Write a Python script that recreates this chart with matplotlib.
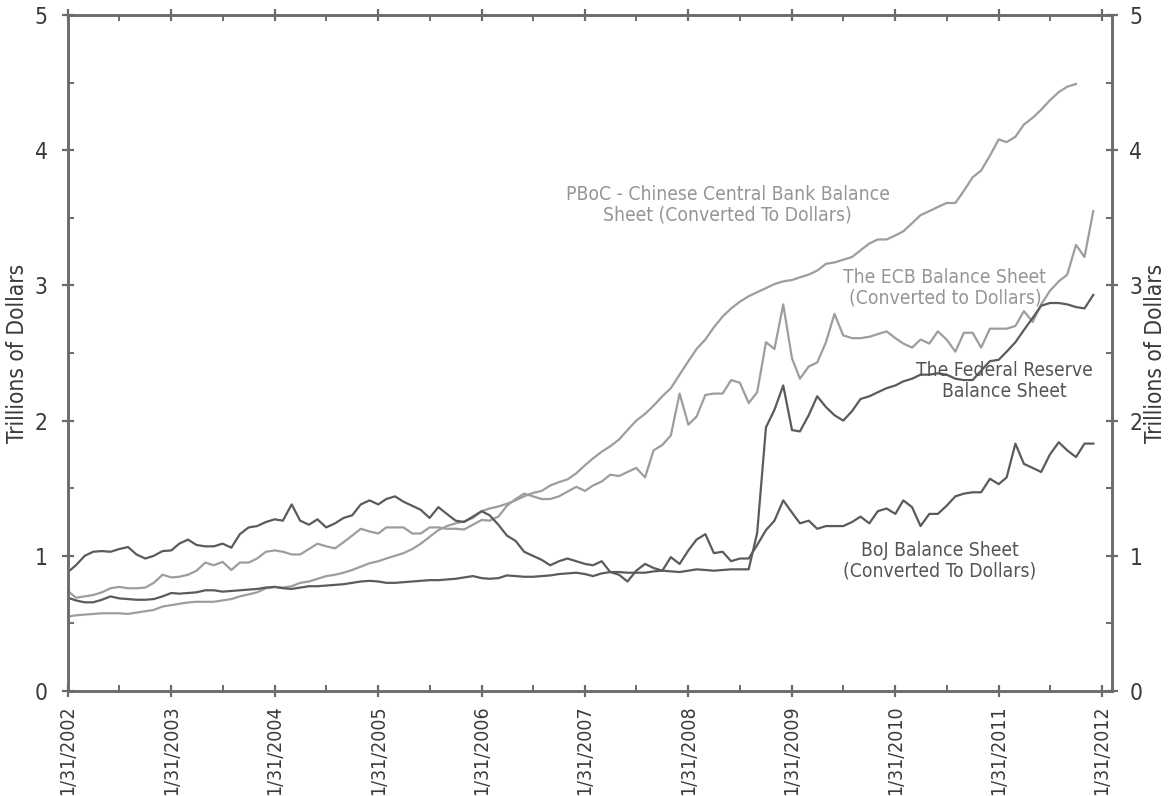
import pandas as pd
import matplotlib
matplotlib.use("Agg")
import matplotlib.pyplot as plt
from matplotlib import font_manager
from matplotlib.ticker import MultipleLocator

# the original uses a narrow face; take a condensed one if the system has it
narrow = [f for f in font_manager.fontManager.ttflist
          if f.stretch in ('condensed', 'semi-condensed', 'extra-condensed')
          or 'Narrow' in f.name or 'Condensed' in f.name]
if narrow:
    plt.rcParams['font.family'] = [narrow[0].name, 'DejaVu Sans']
    plt.rcParams['font.stretch'] = narrow[0].stretch
else:
    plt.rcParams['font.family'] = ['Liberation Sans', 'DejaVu Sans']

# monthly month-end values, trillions of dollars, Jan 2002 - Dec 2011
months = pd.date_range('2002-01-31', periods=120, freq='ME')

boj = [0.88, 0.93, 1.00, 1.03, 1.035, 1.03, 1.05, 1.065, 1.01, 0.98, 1.00, 1.035,
       1.04, 1.09, 1.12, 1.08, 1.07, 1.07, 1.09, 1.06, 1.16, 1.21, 1.22, 1.25,
       1.27, 1.26, 1.38, 1.26, 1.23, 1.27, 1.21, 1.24, 1.28, 1.30, 1.38, 1.41,
       1.38, 1.42, 1.44, 1.40, 1.37, 1.34, 1.28, 1.36, 1.31, 1.26, 1.25, 1.29,
       1.33, 1.30, 1.23, 1.15, 1.11, 1.03, 1.00, 0.97, 0.93, 0.96, 0.98, 0.96,
       0.94, 0.93, 0.96, 0.88, 0.86, 0.81, 0.89, 0.94, 0.91, 0.89, 0.99, 0.94,
       1.04, 1.12, 1.16, 1.02, 1.03, 0.96, 0.98, 0.98, 1.08, 1.19, 1.26, 1.41,
       1.32, 1.24, 1.26, 1.20, 1.22, 1.22, 1.22, 1.25, 1.29, 1.24, 1.33, 1.35,
       1.31, 1.41, 1.36, 1.22, 1.31, 1.31, 1.37, 1.44, 1.46, 1.47, 1.47, 1.57,
       1.53, 1.58, 1.83, 1.68, 1.65, 1.62, 1.75, 1.84, 1.78, 1.73, 1.83, 1.83]

fed = [0.69, 0.67, 0.656, 0.656, 0.675, 0.70, 0.685, 0.68, 0.675, 0.675, 0.68, 0.70,
       0.725, 0.72, 0.725, 0.73, 0.745, 0.745, 0.735, 0.74, 0.745, 0.75, 0.755, 0.765,
       0.77, 0.76, 0.755, 0.765, 0.775, 0.775, 0.78, 0.785, 0.79, 0.80, 0.81, 0.815,
       0.81, 0.80, 0.80, 0.805, 0.81, 0.815, 0.82, 0.82, 0.825, 0.83, 0.84, 0.85,
       0.835, 0.83, 0.835, 0.855, 0.85, 0.845, 0.845, 0.85, 0.855, 0.865, 0.87, 0.875,
       0.865, 0.85, 0.87, 0.88, 0.88, 0.875, 0.875, 0.875, 0.885, 0.89, 0.885, 0.88,
       0.89, 0.90, 0.895, 0.89, 0.895, 0.90, 0.90, 0.90, 1.17, 1.95, 2.08, 2.26,
       1.93, 1.92, 2.04, 2.18, 2.10, 2.04, 2.00, 2.07, 2.16, 2.18, 2.21, 2.24,
       2.26, 2.29, 2.31, 2.34, 2.34, 2.35, 2.34, 2.31, 2.30, 2.30, 2.37, 2.44,
       2.45, 2.51, 2.58, 2.67, 2.76, 2.85, 2.87, 2.87, 2.86, 2.84, 2.83, 2.93]

ecb = [0.74, 0.69, 0.70, 0.71, 0.73, 0.76, 0.77, 0.76, 0.76, 0.765, 0.80, 0.86,
       0.84, 0.845, 0.86, 0.89, 0.95, 0.93, 0.955, 0.895, 0.95, 0.95, 0.98, 1.03,
       1.04, 1.03, 1.01, 1.01, 1.05, 1.09, 1.07, 1.055, 1.10, 1.15, 1.20, 1.18,
       1.165, 1.21, 1.21, 1.21, 1.165, 1.165, 1.21, 1.21, 1.20, 1.20, 1.195, 1.23,
       1.265, 1.26, 1.29, 1.37, 1.42, 1.46, 1.44, 1.42, 1.42, 1.44, 1.475, 1.51,
       1.48, 1.52, 1.55, 1.60, 1.59, 1.62, 1.65, 1.58, 1.78, 1.82, 1.89, 2.20,
       1.97, 2.03, 2.19, 2.20, 2.20, 2.30, 2.28, 2.13, 2.21, 2.58, 2.53, 2.86,
       2.46, 2.31, 2.40, 2.43, 2.58, 2.79, 2.63, 2.61, 2.61, 2.62, 2.64, 2.66,
       2.61, 2.57, 2.54, 2.60, 2.57, 2.66, 2.60, 2.51, 2.65, 2.65, 2.54, 2.68,
       2.68, 2.68, 2.70, 2.81, 2.73, 2.86, 2.96, 3.03, 3.08, 3.30, 3.21, 3.55]

# PBoC series stops in late 2011
pboc = [0.55, 0.56, 0.565, 0.57, 0.575, 0.575, 0.575, 0.57, 0.58, 0.59, 0.60, 0.625,
        0.635, 0.645, 0.655, 0.66, 0.66, 0.66, 0.67, 0.68, 0.70, 0.715, 0.73, 0.76,
        0.77, 0.765, 0.775, 0.80, 0.81, 0.83, 0.85, 0.86, 0.875, 0.895, 0.92, 0.945,
        0.96, 0.98, 1.00, 1.02, 1.05, 1.09, 1.14, 1.19, 1.22, 1.24, 1.255, 1.28,
        1.33, 1.35, 1.365, 1.385, 1.41, 1.44, 1.465, 1.48, 1.52, 1.545, 1.565, 1.61,
        1.67, 1.72, 1.77, 1.81, 1.86, 1.93, 2.00, 2.05, 2.11, 2.18, 2.24, 2.34,
        2.44, 2.53, 2.60, 2.69, 2.77, 2.83, 2.88, 2.92, 2.95, 2.98, 3.01, 3.03,
        3.04, 3.06, 3.08, 3.11, 3.16, 3.17, 3.19, 3.21, 3.26, 3.31, 3.34, 3.34,
        3.37, 3.40, 3.46, 3.52, 3.55, 3.58, 3.61, 3.61, 3.70, 3.80, 3.85, 3.96,
        4.08, 4.06, 4.10, 4.19, 4.24, 4.30, 4.37, 4.43, 4.47, 4.49]

years = list(range(2002, 2013))
year_ticks = [pd.Timestamp(f'{y}-01-31') for y in years]
year_labels = [f'1/31/{y}' for y in years]
half_ticks = [pd.Timestamp(f'{y}-07-31') for y in years[:-1]]

dark = '#5b5b5b'
light = '#9d9d9d'
axis_col = '#6b6b6b'
text_col = '#3a3a3a'

fig = plt.figure(figsize=(11.7, 7.96), dpi=100)
renderer = fig.canvas.get_renderer()


def size_for(text, target_px, base=20.0):
    # font size that gives the text the pixel width it has in the original
    t = fig.text(0, 0, text, fontsize=base)
    w = t.get_window_extent(renderer).width
    t.remove()
    return base * target_px / w


tick_size = size_for('1/31/2002', 90)
ytick_size = size_for('0', 13)
label_size = size_for('Trillions of Dollars', 180)
note_size = size_for('PBoC - Chinese Central Bank Balance', 323)

ax = fig.add_axes([0.0581, 0.1319, 0.8923, 0.8492])

ax.plot(months[:len(pboc)], pboc, color=light, lw=1.6)
ax.plot(months, ecb, color=light, lw=1.6)
ax.plot(months, fed, color=dark, lw=1.6)
ax.plot(months, boj, color=dark, lw=1.6)

ax.set_xlim(pd.Timestamp('2002-01-31'), pd.Timestamp('2012-03-06'))
ax.set_ylim(0, 5)
ax.set_xticks(year_ticks)
ax.set_xticklabels(year_labels, rotation=90)
ax.set_xticks(half_ticks, minor=True)
ax.yaxis.set_major_locator(MultipleLocator(1))
ax.yaxis.set_minor_locator(MultipleLocator(0.5))

ax2 = ax.twinx()
ax2.set_ylim(0, 5)
ax2.yaxis.set_major_locator(MultipleLocator(1))
ax2.yaxis.set_minor_locator(MultipleLocator(0.5))

for a in (ax, ax2):
    for s in a.spines.values():
        s.set_color(axis_col)
        s.set_linewidth(1.8)
    a.tick_params(which='major', direction='inout', length=9, width=1.6,
                  color=axis_col, labelsize=tick_size, labelcolor=text_col)
    a.tick_params(which='minor', direction='in', length=4, width=1.4, color=axis_col)
ax.tick_params(which='both', top=True)
ax.tick_params(axis='x', which='major', pad=6)
ax.tick_params(axis='y', which='major', pad=10, labelsize=ytick_size)
ax2.tick_params(axis='y', which='major', pad=8, labelsize=ytick_size)

ax.set_ylabel('Trillions of Dollars', fontsize=label_size, color=text_col, labelpad=4)
ax2.set_ylabel('Trillions of Dollars', fontsize=label_size, color=text_col, labelpad=1)

# series labels
ax.text(0.632, 0.720, 'PBoC - Chinese Central Bank Balance\nSheet (Converted To Dollars)',
        transform=ax.transAxes, ha='center', va='center', fontsize=note_size,
        color='#959595', linespacing=1.1)
ax.text(0.840, 0.596, 'The ECB Balance Sheet\n(Converted to Dollars)',
        transform=ax.transAxes, ha='center', va='center', fontsize=note_size,
        color='#959595', linespacing=1.1)
ax.text(0.8966, 0.4586, 'The Federal Reserve\nBalance Sheet',
        transform=ax.transAxes, ha='center', va='center', fontsize=note_size,
        color='#555555', linespacing=1.1)
ax.text(0.835, 0.192, 'BoJ Balance Sheet\n(Converted To Dollars)',
        transform=ax.transAxes, ha='center', va='center', fontsize=note_size,
        color='#555555', linespacing=1.1)

fig.savefig('out.png', dpi=100)
